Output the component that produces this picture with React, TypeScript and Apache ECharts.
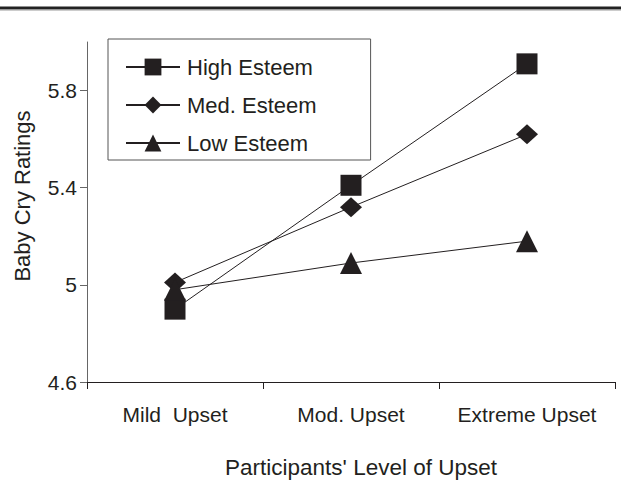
import React, { useEffect, useRef } from "react";
import * as echarts from "echarts";

const categories = ["Mild  Upset", "Mod. Upset", "Extreme Upset"];
const highEsteem = [4.9, 5.41, 5.91];
const medEsteem = [5.01, 5.32, 5.62];
const lowEsteem = [4.98, 5.09, 5.18];
const yTicks = [4.6, 5, 5.4, 5.8];
const seriesNames = ["High Esteem", "Med. Esteem", "Low Esteem"];

const INK = "#231f20";
const FONT = "'Liberation Sans', Arial, sans-serif";

export default function App() {
  const ref = useRef<HTMLDivElement>(null);
  useEffect(() => {
    document.body.style.margin = "0";
    if (!ref.current) return;
    const chart = echarts.init(ref.current, undefined, { renderer: "svg" });
    const mk = (name: string, data: number[], symbol: string, size: any) => ({
      name,
      type: "line",
      data,
      symbol,
      symbolSize: size,
      showAllSymbol: true,
      lineStyle: { color: INK, width: 1 },
      itemStyle: { color: INK, borderWidth: 0 },
      emphasis: { disabled: true },
    });
    chart.setOption({
      animation: false,
      textStyle: { fontFamily: FONT },
      grid: { left: 87, top: 42, width: 528, height: 340, containLabel: false },
      legend: {
        orient: "vertical",
        left: 108,
        top: 39,
        data: seriesNames,
        itemWidth: 54,
        itemHeight: 21,
        itemGap: 16,
        padding: [17, 54, 6, 17],
        borderColor: "#555",
        borderWidth: 1,
        backgroundColor: "#fff",
        textStyle: { fontSize: 22, color: INK, fontFamily: FONT, padding: [0, 0, 0, 2] },
        selectedMode: false,
      },
      xAxis: {
        type: "category",
        data: categories,
        boundaryGap: true,
        axisLine: { lineStyle: { color: INK, width: 1 } },
        axisTick: { show: true, length: 7, interval: 0, lineStyle: { color: INK } },
        axisLabel: { margin: 22, fontSize: 21, color: INK, fontFamily: FONT, interval: 0 },
        splitLine: { show: false },
      },
      yAxis: {
        type: "value",
        min: 4.6,
        max: 6.0,
        axisLine: { show: true, lineStyle: { color: "#666", width: 1 } },
        axisTick: { show: true, length: 7, customValues: yTicks, lineStyle: { color: "#666" } },
        axisLabel: { margin: 10, fontSize: 21, color: INK, fontFamily: FONT, customValues: yTicks },
        splitLine: { show: false },
      },
      graphic: [
        { type: "rect", shape: { x: 0, y: 6.5, width: 621, height: 3 }, style: { fill: "#222" } },
        { type: "rect", shape: { x: 0, y: 9.5, width: 621, height: 1 }, style: { fill: "#999" } },
        {
          type: "text",
          x: 22,
          y: 196,
          rotation: Math.PI / 2,
          style: { text: "Baby Cry Ratings", fontSize: 22, fill: INK, fontFamily: FONT, align: "center", verticalAlign: "middle" },
        },
        {
          type: "text",
          x: 361,
          y: 467,
          style: { text: "Participants' Level of Upset", fontSize: 22.5, fill: INK, fontFamily: FONT, align: "center", verticalAlign: "middle" },
        },
      ],
      series: [
        mk(seriesNames[0], highEsteem, "rect", 21),
        mk(seriesNames[1], medEsteem, "diamond", [22, 20]),
        mk(seriesNames[2], lowEsteem, "triangle", 22),
      ],
    });
    return () => chart.dispose();
  }, []);
  return <div ref={ref} style={{ width: 621, height: 480 }} />;
}
